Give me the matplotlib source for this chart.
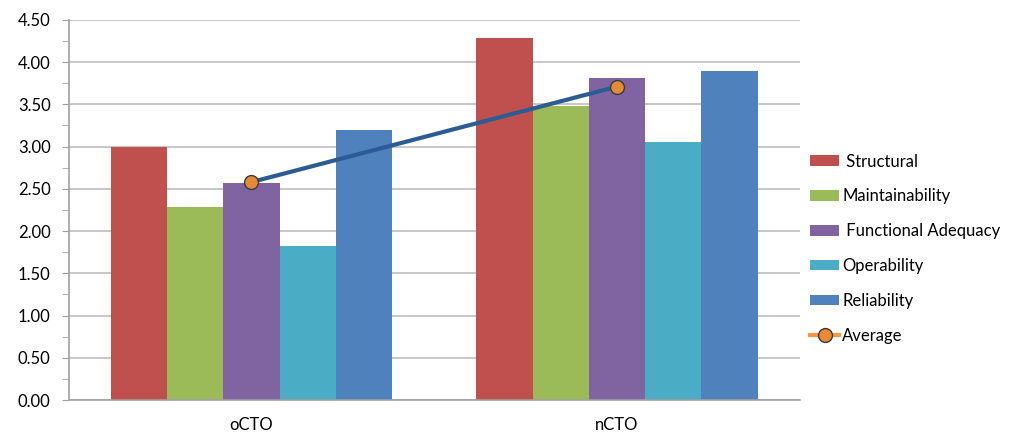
import numpy as np
import matplotlib
matplotlib.use('Agg')
import matplotlib.pyplot as plt
from matplotlib.lines import Line2D
from matplotlib.patches import Patch
from matplotlib.ticker import MultipleLocator, FormatStrFormatter

# ── Data ─────────────────────────────────────────────────────────────────────
groups       = ['oCTO', 'nCTO']
metrics      = ['Structural', 'Maintainability', 'Functional Adequacy',
                'Operability', 'Reliability']
structural   = [3.00, 4.29]
maintain     = [2.29, 3.48]
functional   = [2.57, 3.81]
operability  = [1.82, 3.05]
reliability  = [3.20, 3.90]
average      = [2.58, 3.71]

series = [structural, maintain, functional, operability, reliability]
colors = ['#C0504D', '#9BBB59', '#8064A2', '#4BACC6', '#4F81BD']

plt.rcParams['font.family'] = ['Lato', 'DejaVu Sans']

fig = plt.figure(figsize=(10.11, 4.32), dpi=100)
ax = fig.add_axes([0.068, 0.074, 0.723, 0.880])

x = np.arange(len(groups))
w = 0.77 / len(series)
for i, (vals, c) in enumerate(zip(series, colors)):
    ax.bar(x + (i - 2) * w, vals, width=w, color=c, zorder=2)

ax.plot(x, average, color='#2B5C94', lw=3, zorder=3,
        marker='o', ms=10, mfc='#E68A35', mec='#3A3A3A', mew=1)

ax.set_xlim(-0.5, 1.5)
ax.set_ylim(0, 4.5)
ax.yaxis.set_major_locator(MultipleLocator(0.5))
ax.yaxis.set_minor_locator(MultipleLocator(0.25))
ax.yaxis.set_major_formatter(FormatStrFormatter('%.2f'))
ax.grid(axis='y', color='#BEBEBE', lw=1.2, zorder=0)
ax.set_xticks(x)
ax.set_xticklabels(groups)
ax.tick_params(axis='x', length=0, pad=12, labelsize=12)
ax.tick_params(axis='y', which='both', direction='out', length=5,
               color='#A0A0A0', labelsize=12, pad=8)
for s in ['top', 'right']:
    ax.spines[s].set_visible(False)
for s in ['left', 'bottom']:
    ax.spines[s].set_color('#A0A0A0')
    ax.spines[s].set_linewidth(1.2)

handles = [Patch(facecolor=c) for c in colors]
handles.append(Line2D([], [], color='#F79646', lw=3, marker='o', ms=10,
                      mfc='#E68A35', mec='#3A3A3A'))
labels = [' Structural', 'Maintainability', ' Functional Adequacy',
          'Operability', 'Reliability', 'Average']
fig.legend(handles, labels, loc='upper left', bbox_to_anchor=(0.795, 0.66),
           frameon=False, fontsize=12, labelspacing=1.13, handlelength=1.7,
           handleheight=0.6, handletextpad=0.2, borderaxespad=0)

fig.savefig('out.png', dpi=100)
